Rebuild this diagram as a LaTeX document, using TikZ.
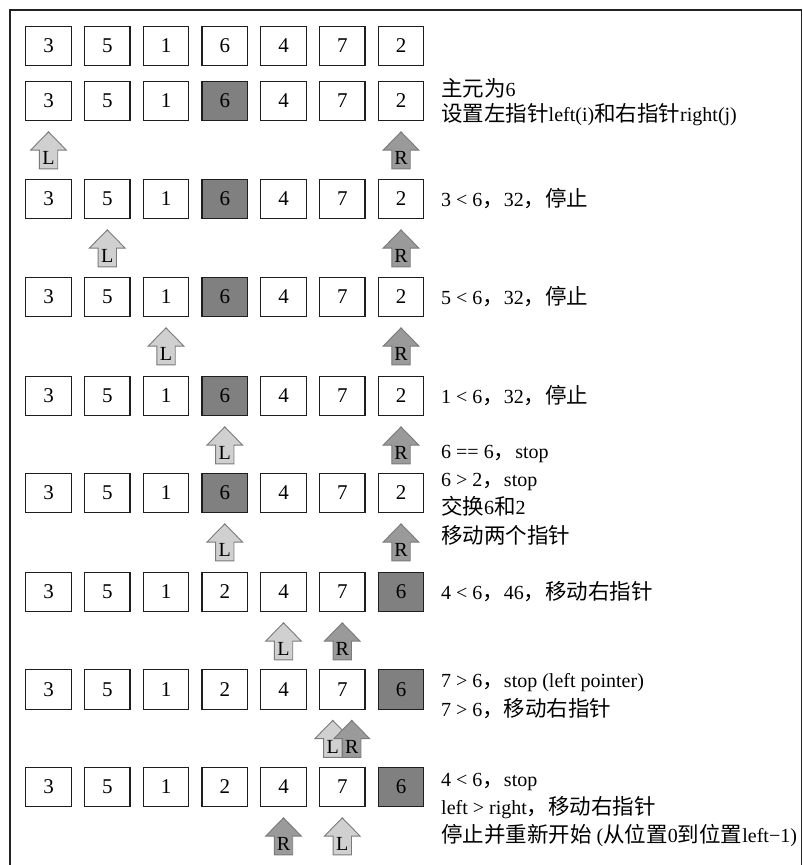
\documentclass[tikz,border=0pt]{standalone}
\usepackage{fontspec}
\usetikzlibrary{calc}
\setmainfont{Liberation Serif}
\newfontfamily\zhfont[Scale=1.075]{Noto Sans CJK SC}
\newcommand{\zh}[1]{{\zhfont #1}}

\definecolor{CellInk}{HTML}{1E1E1E}
\definecolor{PivotFill}{HTML}{808080}
\definecolor{LeftFill}{HTML}{D0D0D0}
\definecolor{RightFill}{HTML}{9A9A9A}
\definecolor{PtrRule}{HTML}{7A7A7A}
\definecolor{FrameInk}{HTML}{222222}

\tikzset{
  cell/.style={draw=CellInk,line width=1.2pt,minimum width=45.5pt,minimum height=39.5pt,
    inner sep=0pt,font=\fontsize{21}{21}\selectfont},
  pivot/.style={cell,fill=PivotFill},
  note/.style={anchor=west,inner sep=0pt,align=left,font=\fontsize{20}{28.3}\selectfont},
  ptrL/.style={draw=PtrRule,fill=LeftFill,line width=0.9pt},
  ptrR/.style={draw=PtrRule,fill=RightFill,line width=0.9pt},
  ptrtxt/.style={inner sep=0pt,font=\fontsize{20}{20}\selectfont},
}

% pointer under a cell: name, cell, x shift, letter
\newcommand{\ptr}[4]{%
  \draw[ptr#4] ($(#2.south)+(#3,10.5)$) -- ++(17.9,18.3) -- ++(-8.7,0) -- ++(0,18.7)
    -- ++(-18.4,0) -- ++(0,-18.7) -- ++(-8.7,0) -- cycle;
  \node[ptrtxt] (#1) at ($(#2.south)+(#3,37)$) {#4};}

\begin{document}
\begin{tikzpicture}[x=1pt,y=-1pt]
  \useasboundingbox (0,0) rectangle (803,865);
  \clip (0,0) rectangle (803,865);
  \draw[FrameInk,line width=1.5pt] (10,10) rectangle (801.5,900);

  % array rows
  \foreach \r/\y/\p in {1/46/9,2/101/3,3/199/3,4/297/3,5/396/3,6/493/3}
    \foreach \v [count=\i from 0] in {3,5,1,6,4,7,2}{
      \ifnum\i=\p \def\sty{pivot}\else\def\sty{cell}\fi
      \node[\sty] (r\r c\i) at (48.5+58.75*\i,\y) {\v};}
  \foreach \r/\y in {7/592,8/689.5,9/787}
    \foreach \v [count=\i from 0] in {3,5,1,2,4,7,6}{
      \ifnum\i=6 \def\sty{pivot}\else\def\sty{cell}\fi
      \node[\sty] (r\r c\i) at (48.5+58.75*\i,\y) {\v};}

  % pointers
  \ptr{p2l}{r2c0}{0}{L}  \ptr{p2r}{r2c6}{0}{R}
  \ptr{p3l}{r3c1}{0}{L}  \ptr{p3r}{r3c6}{0}{R}
  \ptr{p4l}{r4c2}{0}{L}  \ptr{p4r}{r4c6}{0}{R}
  \ptr{p5l}{r5c3}{0}{L}  \ptr{p5r}{r5c6}{0}{R}
  \ptr{p6l}{r6c3}{0}{L}  \ptr{p6r}{r6c6}{0}{R}
  \ptr{p7l}{r7c4}{0}{L}  \ptr{p7r}{r7c5}{0}{R}
  \ptr{p8l}{r8c5}{-9.5}{L}  \ptr{p8r}{r8c5}{9.5}{R}
  \ptr{p9r}{r9c4}{0}{R}  \ptr{p9l}{r9c5}{0}{L}

  % notes
  \node[note,font=\fontsize{20}{25.5}\selectfont] (t2) at (441,102)
    {\zh{主元为}6\\\zh{设置左指针}left(i)\zh{和右指针}right(j)};
  \node[note] (t3) at (441,199) {3 < 6\zh{，}32\zh{，停止}};
  \node[note] (t4) at (441,297) {5 < 6\zh{，}32\zh{，停止}};
  \node[note] (t5) at (441,396) {1 < 6\zh{，}32\zh{，停止}};
  \node[note] (t6) at (441,495)
    {6 == 6\zh{，}stop\\6 > 2\zh{，}stop\\\zh{交换}6\zh{和}2\\\zh{移动两个指针}};
  \node[note] (t7) at (441,592) {4 < 6\zh{，}46\zh{，移动右指针}};
  \node[note] (t8) at (441,696) {7 > 6\zh{，}stop (left pointer)\\7 > 6\zh{，移动右指针}};
  \node[note] (t9) at (441,810)
    {4 < 6\zh{，}stop\\left > right\zh{，移动右指针}\\\zh{停止并重新开始} (\zh{从位置}0\zh{到位置}left−1)};
\end{tikzpicture}
\end{document}
